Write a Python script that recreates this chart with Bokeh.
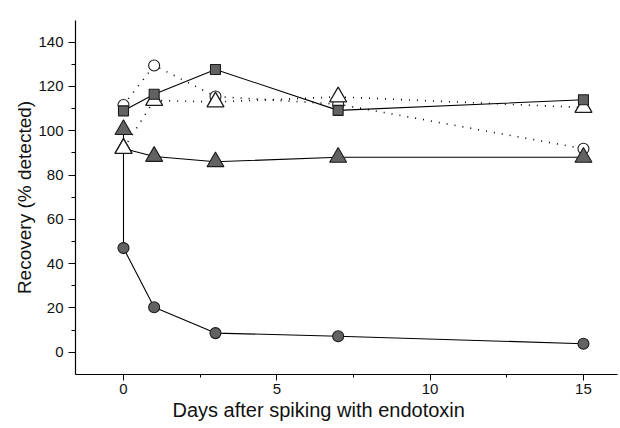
from bokeh.plotting import figure
from bokeh.models import Range1d, FixedTicker, Title
from bokeh.embed import file_html
from bokeh.resources import INLINE

# ---- data ----
circ_f_days = [0, 0, 1, 3, 7, 15]
circ_f_vals = [92, 47, 20.3, 8.6, 7.2, 3.8]
tri_f_days = [0, 0, 1, 3, 7, 15]
tri_f_vals = [100.5, 92, 88.4, 86, 88, 88]
sq_days = [0, 1, 3, 7, 15]
sq_vals = [109, 116.5, 127.7, 109.2, 114]
circ_o_days = [0, 1, 3, 7, 15]
circ_o_vals = [111.6, 129.5, 115.5, 112, 91.9]
tri_o_days = [0, 1, 3, 7, 15]
tri_o_vals = [92, 113.7, 113, 115.3, 110.5]

x_ticks = [0, 5, 10, 15]
x_minor = [2.5, 7.5, 12.5]
y_ticks = [0, 20, 40, 60, 80, 100, 120, 140]
y_minor = [10, 30, 50, 70, 90, 110, 130]

x_title = "Days after spiking with endotoxin"
y_title = "Recovery (% detected)"

FONT = "Liberation Sans"
FILL = "#626262"
EDGE = "#1a1a1a"

p = figure(width=618, height=426,
           x_range=Range1d(-1.565, 16.11), y_range=Range1d(-10.1, 149.8),
           output_backend="svg", toolbar_location=None,
           min_border_left=75, min_border_right=1,
           min_border_top=20, min_border_bottom=52)

p.outline_line_color = None
p.grid.visible = False
p.background_fill_color = "white"

# lines
p.line(circ_o_days, circ_o_vals, line_color="black", line_width=1.6, line_dash="1 7")
p.line(tri_o_days, tri_o_vals, line_color="black", line_width=1.6, line_dash="1 7")
p.line(sq_days, sq_vals, line_color="black", line_width=1.1)
p.line(tri_f_days, tri_f_vals, line_color="black", line_width=1.1)
p.line(circ_f_days, circ_f_vals, line_color="black", line_width=1.1)

# markers (drawn in overlap order)
p.scatter(circ_o_days, circ_o_vals, marker="circle", size=11,
          fill_color="white", line_color=EDGE, line_width=1.1)
p.scatter(circ_f_days[1:], circ_f_vals[1:], marker="circle", size=11,
          fill_color=FILL, line_color=EDGE, line_width=1.1)
p.scatter(tri_f_days, tri_f_vals, marker="triangle", size=17,
          fill_color=FILL, line_color=EDGE, line_width=1.1)
p.scatter(tri_o_days, tri_o_vals, marker="triangle", size=17,
          fill_color="white", line_color=EDGE, line_width=1.3)
p.scatter(sq_days, sq_vals, marker="square", size=10,
          fill_color=FILL, line_color=EDGE, line_width=1.1)

# axes
p.xaxis.ticker = FixedTicker(ticks=x_ticks, minor_ticks=x_minor)
p.yaxis.ticker = FixedTicker(ticks=y_ticks, minor_ticks=y_minor)
for ax in (p.xaxis[0], p.yaxis[0]):
    ax.axis_line_color = "black"
    ax.axis_line_width = 1.2
    ax.major_tick_line_color = "black"
    ax.minor_tick_line_color = "black"
    ax.major_tick_in = 0
    ax.minor_tick_in = 0
    ax.minor_tick_out = 3
    ax.major_label_text_font = FONT
    ax.major_label_text_font_size = "15px"
    ax.major_label_text_color = "#111111"
    ax.axis_label_text_font = FONT
    ax.axis_label_text_font_style = "normal"
    ax.axis_label_text_color = "#111111"

p.yaxis.axis_label_text_font_size = "19px"
p.xaxis.major_tick_out = 6
p.yaxis.major_tick_out = 7
p.yaxis.minor_tick_out = 4
p.xaxis.major_label_standoff = 3
p.yaxis.major_label_standoff = 5
p.yaxis.axis_label = y_title
p.yaxis.axis_label_standoff = 0

# x-axis title, placed slightly left of centre as in the reference
p.add_layout(Title(text=x_title, align="left", offset=97, standoff=0,
                   text_font=FONT, text_font_size="20px",
                   text_font_style="normal", text_color="#111111"), "below")

open("out.html", "w").write(file_html(p, INLINE))
